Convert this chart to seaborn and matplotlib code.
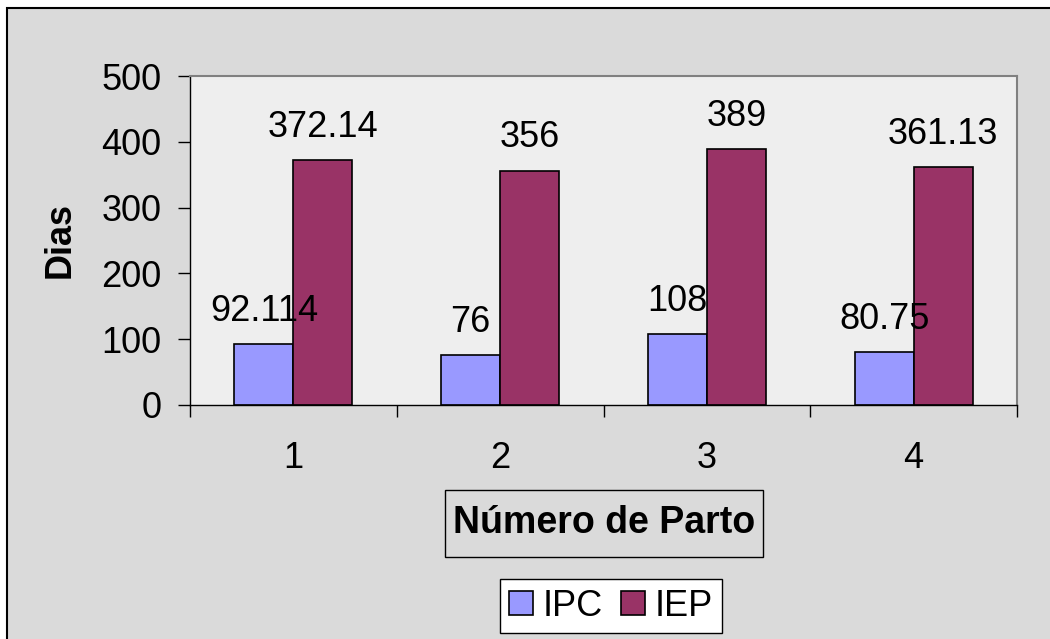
import pandas as pd
import matplotlib.pyplot as plt
import matplotlib.patches as patches
import seaborn as sns

# Datos del gráfico
partos = ["1", "2", "3", "4"]
ipc = [92.114, 76, 108, 80.75]
iep = [372.14, 356, 389, 361.13]
ipc_labels = ["92.114", "76", "108", "80.75"]
iep_labels = ["372.14", "356", "389", "361.13"]
series = ["IPC", "IEP"]
colores = ["#9999FF", "#993366"]

df = pd.DataFrame({
    "Parto": partos * 2,
    "Serie": ["IPC"] * 4 + ["IEP"] * 4,
    "Dias": ipc + iep,
})

sns.set_style("white")
plt.rcParams["font.family"] = ["Liberation Sans", "DejaVu Sans"]
plt.rcParams["text.color"] = "black"
plt.rcParams["xtick.color"] = "black"
plt.rcParams["ytick.color"] = "black"
plt.rcParams["axes.labelcolor"] = "black"

W, H = 1050, 639
fig = plt.figure(figsize=(W / 100, H / 100), dpi=100, facecolor="white")

# fondo gris del área del gráfico
fondo = patches.Rectangle((7 / W, -0.02), 1.1, 1 - 8 / H + 0.02,
                          transform=fig.transFigure, facecolor="#dadada",
                          edgecolor="black", linewidth=1.5, zorder=-5)
fig.patches.append(fondo)

ax = fig.add_axes([190 / W, 1 - 405 / H, 827 / W, 329 / H])
ax.set_facecolor("#eeeeee")

sns.barplot(data=df, x="Parto", y="Dias", hue="Serie", hue_order=series,
            palette=colores, width=0.57, edgecolor="black", linewidth=1.2,
            saturation=1, ax=ax)

for cont, labs in zip(ax.containers, [ipc_labels, iep_labels]):
    ax.bar_label(cont, labels=labs, padding=11, fontsize=26)

ax.set_ylim(0, 500)
ax.set_xlim(-0.5, 3.5)
ax.set_yticks(range(0, 501, 100))
ax.tick_params(axis="y", labelsize=26, length=8.6, width=1, color="black",
               direction="out", pad=12, left=True)
ax.tick_params(axis="x", which="major", labelsize=26, length=0, pad=26)
ax.set_xticks([-0.5, 0.5, 1.5, 2.5, 3.5], minor=True)
ax.tick_params(axis="x", which="minor", length=8.6, width=1, color="black",
               direction="out", bottom=True)

for s in ["left", "bottom"]:
    ax.spines[s].set_color("black")
    ax.spines[s].set_linewidth(1)
for s in ["top", "right"]:
    ax.spines[s].set_color("#808080")
    ax.spines[s].set_linewidth(1.5)

ax.set_ylabel("")
ax.set_xlabel("")
fig.text(60 / W, 1 - 240 / H, "Dias", rotation=90, ha="center", va="center",
         fontsize=26, fontweight="bold")

# título del eje x dentro de una caja
fig.text(604 / W, 1 - 523 / H, "Número de Parto", ha="center", va="center",
         fontsize=27, fontweight="bold")
caja = patches.Rectangle((445 / W, 1 - 557 / H), 318 / W, 67 / H,
                         transform=fig.transFigure, facecolor="none",
                         edgecolor="black", linewidth=1, zorder=5)
fig.patches.append(caja)

handles, labels = ax.get_legend_handles_labels()
ax.get_legend().remove()
leg = fig.legend(handles, labels, loc="center",
                 bbox_to_anchor=(611 / W, 1 - 606 / H), ncol=2, fontsize=26,
                 frameon=True, fancybox=False, edgecolor="black",
                 facecolor="white", framealpha=1, handlelength=0.66,
                 handleheight=0.66, handletextpad=0.28, columnspacing=0.5,
                 borderpad=0.25, borderaxespad=0)
leg.get_frame().set_linewidth(1)

fig.savefig("out.png", dpi=100, facecolor=fig.get_facecolor())
